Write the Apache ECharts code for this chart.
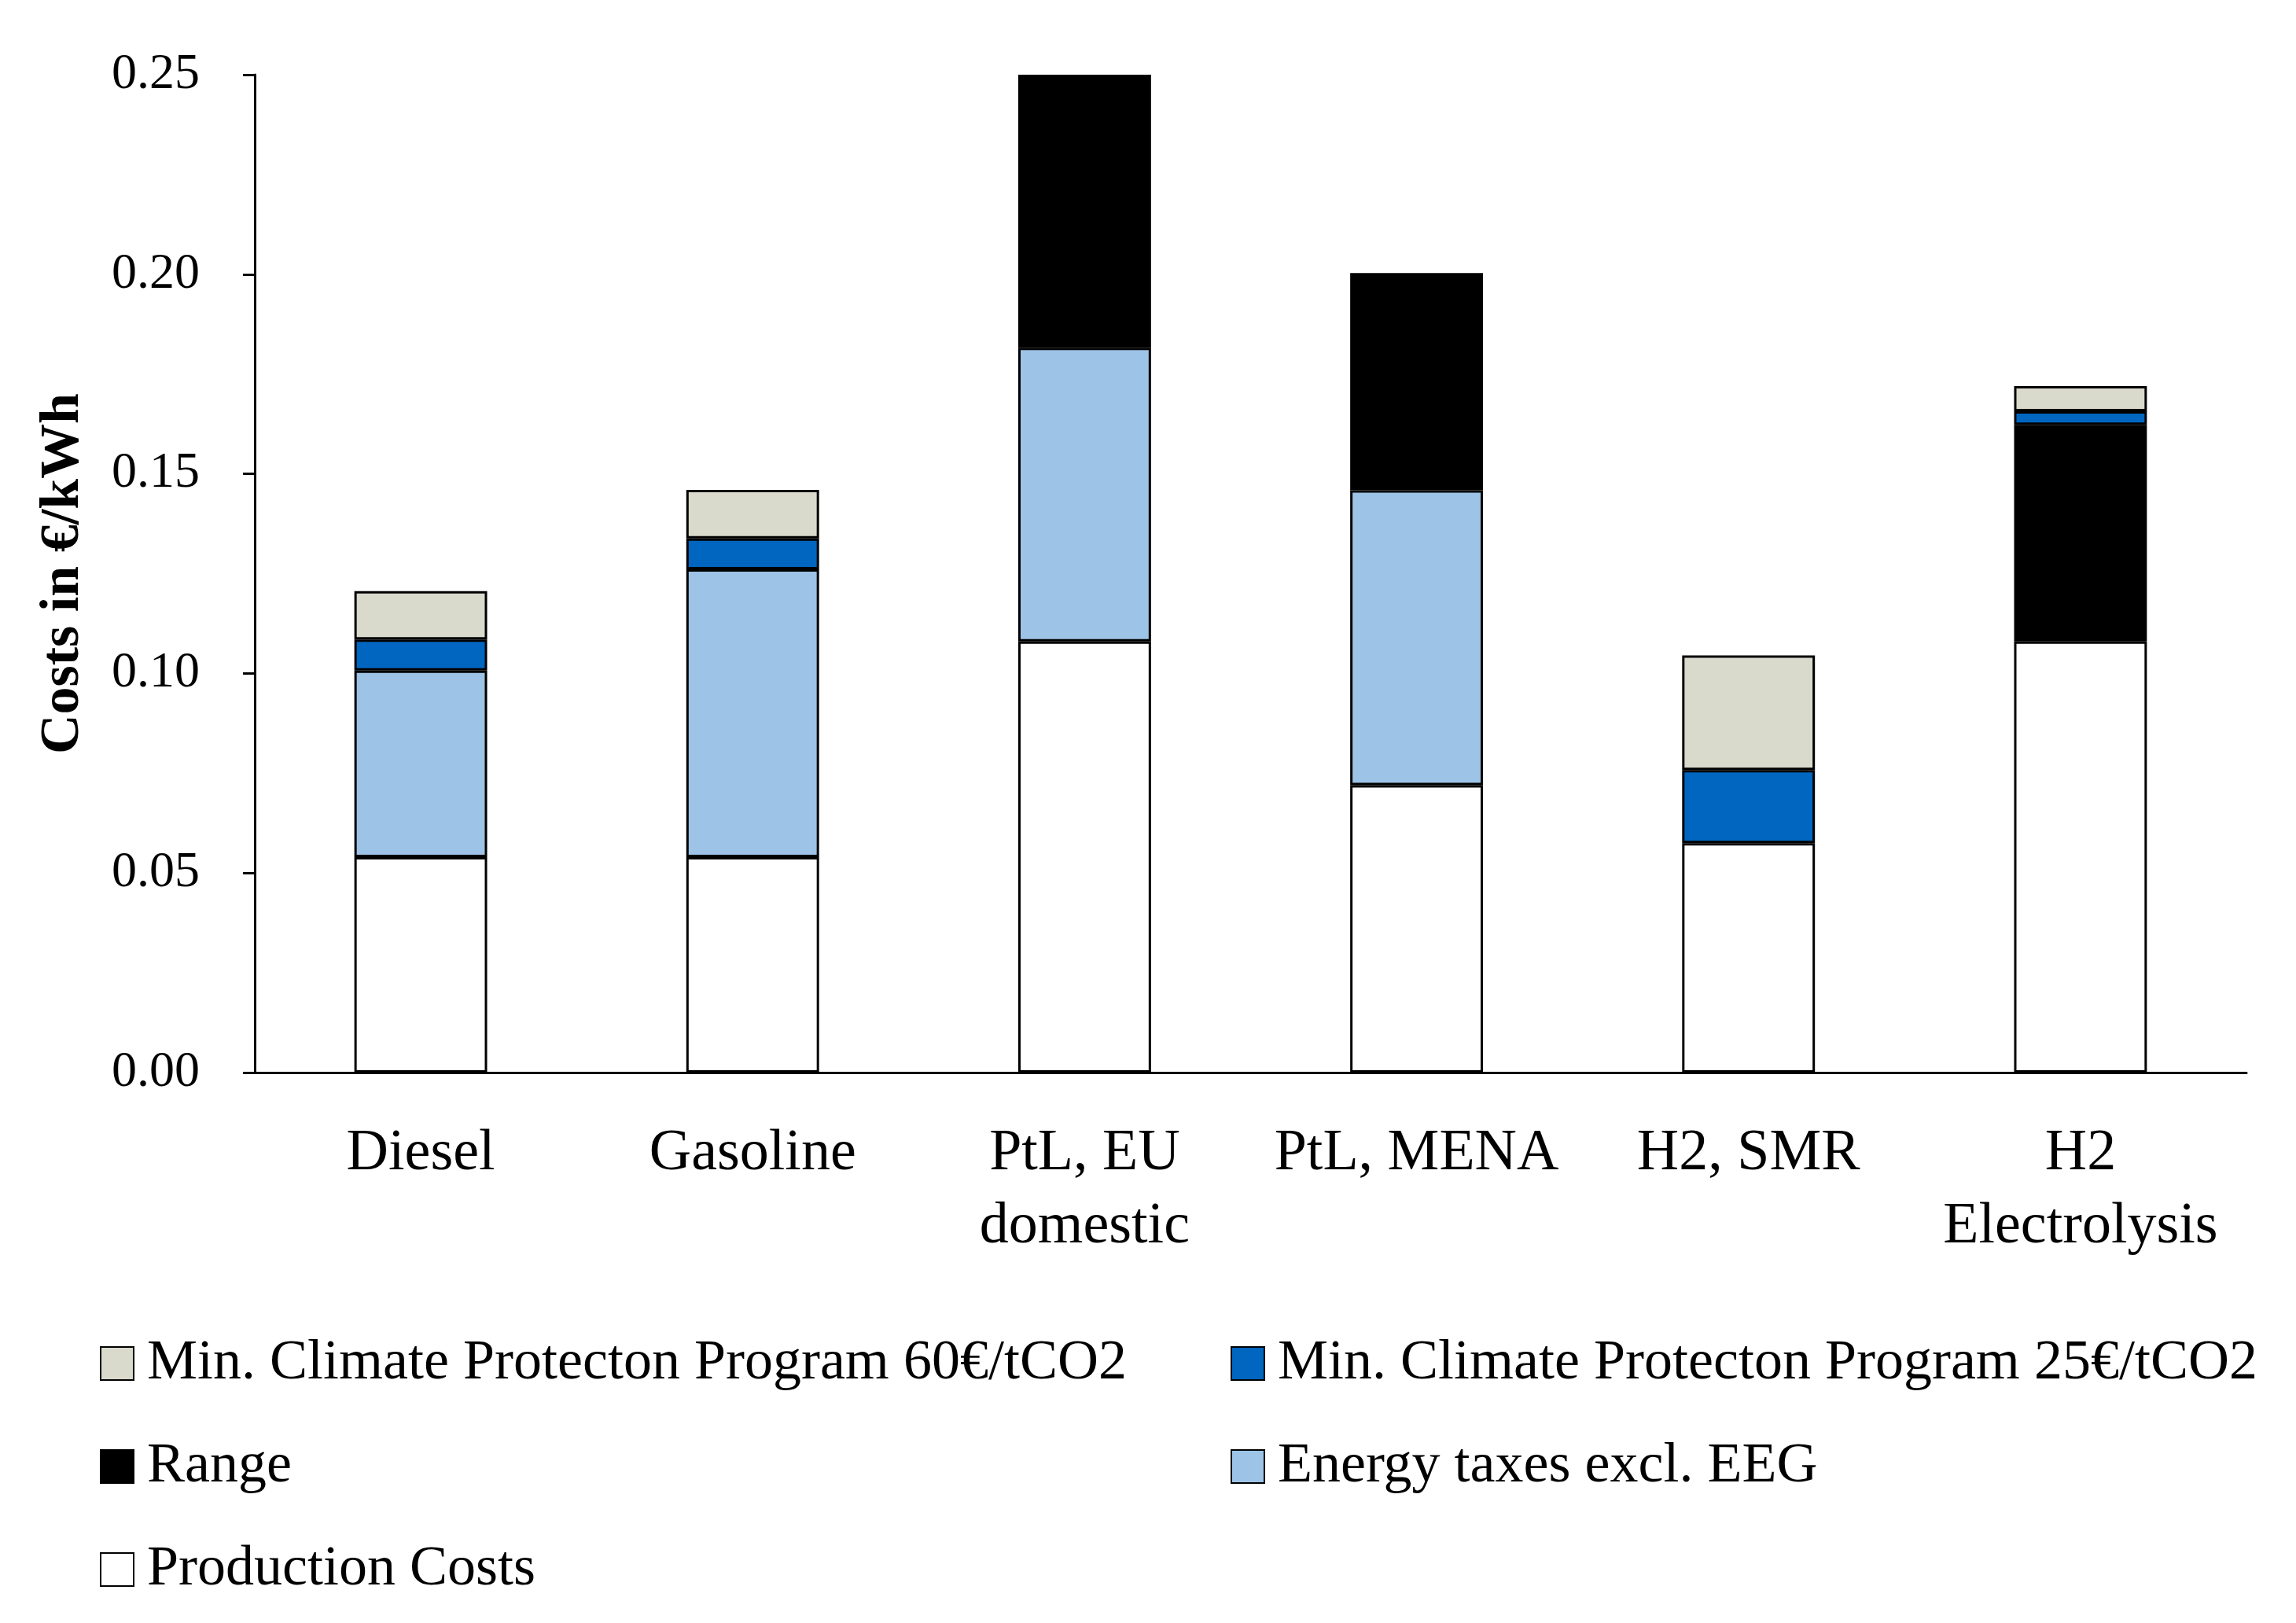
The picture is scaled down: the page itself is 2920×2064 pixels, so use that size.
<!DOCTYPE html>
<html>
<head>
<meta charset="utf-8">
<title>Costs in €/kWh</title>
<script src="https://cdn.jsdelivr.net/npm/echarts@6/dist/echarts.min.js"></script>
<style>
  * { margin: 0; padding: 0 }
  html, body { width: 100%; height: 100%; background: #fff; }
  #main { width: 2920px; height: 2064px; }
</style>
</head>
<body>
<div id="main"></div>
<script>
// data
var categories = ['Diesel', 'Gasoline', 'PtL, EU\ndomestic', 'PtL, MENA', 'H2, SMR', 'H2\nElectrolysis'];
var production = [0.054, 0.054, 0.108, 0.072, 0.0575, 0.108];
var energyTaxes = [0.0467, 0.0721, 0.0736, 0.0739, null, null];
var range = [null, null, 0.0684, 0.0544, null, 0.0543];
var climate25 = [0.0078, 0.0077, null, null, 0.0183, 0.0034];
var climate60 = [0.0121, 0.0122, null, null, 0.0287, 0.0063];
var yTicks = [0, 0.05, 0.10, 0.15, 0.20, 0.25];

var FONT = '"Liberation Serif", "DejaVu Serif", serif';

var names = {
  prod: 'Production Costs',
  tax: 'Energy taxes excl. EEG',
  range: 'Range',
  c25: 'Min. Climate Protecton Program 25€/tCO2',
  c60: 'Min. Climate Protecton Program 60€/tCO2'
};

function bar(name, data, color) {
  return {
    name: name,
    type: 'bar',
    stack: 'cost',
    barWidth: '40%',
    data: data,
    itemStyle: { color: color, borderColor: '#000', borderWidth: 3 },
    emphasis: { disabled: true }
  };
}

// one legend per entry so the two columns line up
function leg(name, left, top) {
  return {
    data: [name],
    left: left,
    top: top,
    padding: 0,
    itemWidth: 42,
    itemHeight: 42,
    icon: 'rect',
    selectedMode: false,
    itemStyle: { borderColor: '#000', borderWidth: 2 },
    textStyle: { fontFamily: FONT, fontSize: 72, color: '#000', lineHeight: 72, padding: [0, 0, 0, 12] }
  };
}

var chart = echarts.init(document.getElementById('main'));
chart.setOption({
  backgroundColor: '#fff',
  animation: false,
  grid: { left: 324, right: 63, top: 95, bottom: 700 },
  legend: [
    leg(names.c60, 127, 1698),
    leg(names.c25, 1565, 1698),
    leg(names.range, 127, 1829),
    leg(names.tax, 1565, 1829),
    leg(names.prod, 127, 1960)
  ],
  xAxis: {
    type: 'category',
    data: categories,
    axisLine: { lineStyle: { color: '#000', width: 3 } },
    axisTick: { show: false },
    axisLabel: { fontFamily: FONT, fontSize: 74, color: '#000', margin: 57, lineHeight: 93, interval: 0 }
  },
  yAxis: {
    type: 'value',
    min: 0,
    max: 0.25,
    interval: 0.05,
    name: 'Costs in €/kWh',
    nameLocation: 'middle',
    nameRotate: 90,
    nameGap: 208,
    nameTextStyle: { fontFamily: FONT, fontSize: 70, fontWeight: 'bold', color: '#000' },
    splitLine: { show: false },
    axisLine: { show: true, lineStyle: { color: '#000', width: 3 } },
    axisTick: { show: true, length: 15, lineStyle: { color: '#000', width: 3 } },
    axisLabel: {
      fontFamily: FONT, fontSize: 64, color: '#000', margin: 70,
      formatter: function (v) { return v.toFixed(2); }
    }
  },
  series: [
    bar(names.prod, production, '#ffffff'),
    bar(names.tax, energyTaxes, '#9dc3e6'),
    bar(names.range, range, '#000000'),
    bar(names.c25, climate25, '#0066c0'),
    bar(names.c60, climate60, '#d9d9cc')
  ]
});
</script>
</body>
</html>
